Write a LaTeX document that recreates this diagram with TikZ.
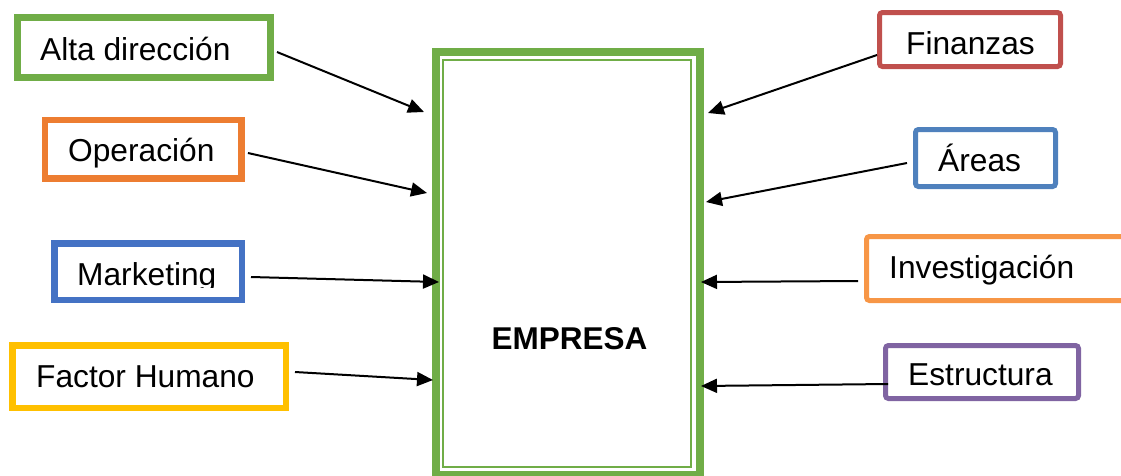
\documentclass[tikz,border=0pt]{standalone}
\usepackage{fontspec}
\setmainfont{Liberation Sans}
\usetikzlibrary{arrows.meta}
\definecolor{cgreen}{HTML}{70AD47}
\definecolor{corange}{HTML}{ED7D31}
\definecolor{cblue}{HTML}{4472C4}
\definecolor{cgold}{HTML}{FFC000}
\definecolor{cred}{HTML}{C0504D}
\definecolor{cblue2}{HTML}{4F81BD}
\definecolor{corange2}{HTML}{F79646}
\definecolor{cpurple}{HTML}{8064A2}
\begin{document}
\begin{tikzpicture}[x=1pt,y=-1pt,
  lbox/.style={draw=#1,line width=6.5pt,inner sep=0pt,fill=white},
  rbox/.style={draw=#1,line width=5pt,inner sep=0pt,rounded corners=3pt,fill=white},
  lbl/.style={anchor=base west,inner sep=0pt,font=\fontsize{31.7}{38}\selectfont},
  conn/.style={line width=2pt,-{Triangle[length=16pt,width=14pt]}}]
\useasboundingbox (0,0) rectangle (1121,475);
% central box
\node[draw=cgreen,line width=8pt,minimum width=264pt,minimum height=423pt,inner sep=0pt] (empresa) at (568,263.5) {};
\node[draw=cgreen,line width=2pt,minimum width=248.5pt,minimum height=406.5pt,inner sep=0pt] (inner) at (567.2,263.7) {};
\node[anchor=base,inner sep=0pt,font=\fontsize{31.5}{38}\selectfont\bfseries] (empt) at (569.5,349) {EMPRESA};
% left boxes
\node[lbox=cgreen,line width=7pt,minimum width=253pt,minimum height=60pt] (alta) at (144,47.5) {};
\node[lbl] (altat) at (40,60) {Alta dirección};
\node[lbox=corange,minimum width=196.8pt,minimum height=58.5pt] (oper) at (143.3,149.2) {};
\node[lbl] (opert) at (68,161.7) {Operación};
\node[lbox=cblue,minimum width=187.5pt,minimum height=56.5pt] (mkt) at (148,271.5) {};
\begin{scope}
\clip (60,245) rectangle (240,287.5);
\node[lbl] (mktt) at (77,285) {Marketing};
\end{scope}
\node[lbox=cgold,minimum width=273.5pt,minimum height=62.5pt] (fh) at (149,376.5) {};
\node[lbl] (fht) at (36,387) {Factor Humano};
% right boxes
\node[rbox=cred,minimum width=181pt,minimum height=54pt] (fin) at (970,39.5) {};
\node[lbl] (fint) at (906,54) {Finanzas};
\node[rbox=cblue2,minimum width=140pt,minimum height=57pt] (areas) at (985.5,158) {};
\node[lbl] (areast) at (938,171) {Áreas};
\node[rbox=corange2,minimum width=280pt,minimum height=64pt] (inv) at (1006.5,268.5) {};
\node[lbl] (invt) at (889,278) {Investigación};
\node[rbox=cpurple,minimum width=193pt,minimum height=53pt] (est) at (982,372) {};
\node[lbl] (estt) at (908,385) {Estructura};
% arrow tips
\coordinate (t1) at (424,112);
\coordinate (t2) at (427,193);
\coordinate (t3) at (439,282);
\coordinate (t4) at (433,380);
\coordinate (t5) at (708,113);
\coordinate (t6) at (706,202);
\coordinate (t7) at (701,282);
\coordinate (t8) at (701,386);
\draw[conn] ([xshift=3pt,yshift=-4.5pt]alta.east) -- (t1);
\draw[conn] ([xshift=3pt,yshift=-3.8pt]oper.east) -- (t2);
\draw[conn] ([xshift=6pt,yshift=-5.5pt]mkt.east) -- (t3);
\draw[conn] ([xshift=6pt,yshift=4.5pt]fh.east) -- (t4);
\draw[conn] ([xshift=0pt,yshift=-15.5pt]fin.west) -- (t5);
\draw[conn] ([xshift=-6pt,yshift=-5pt]areas.west) -- (t6);
\draw[conn] ([xshift=-6pt,yshift=-12.5pt]inv.west) -- (t7);
\draw[conn] ([xshift=5pt,yshift=-12pt]est.west) -- (t8);
\end{tikzpicture}
\end{document}
